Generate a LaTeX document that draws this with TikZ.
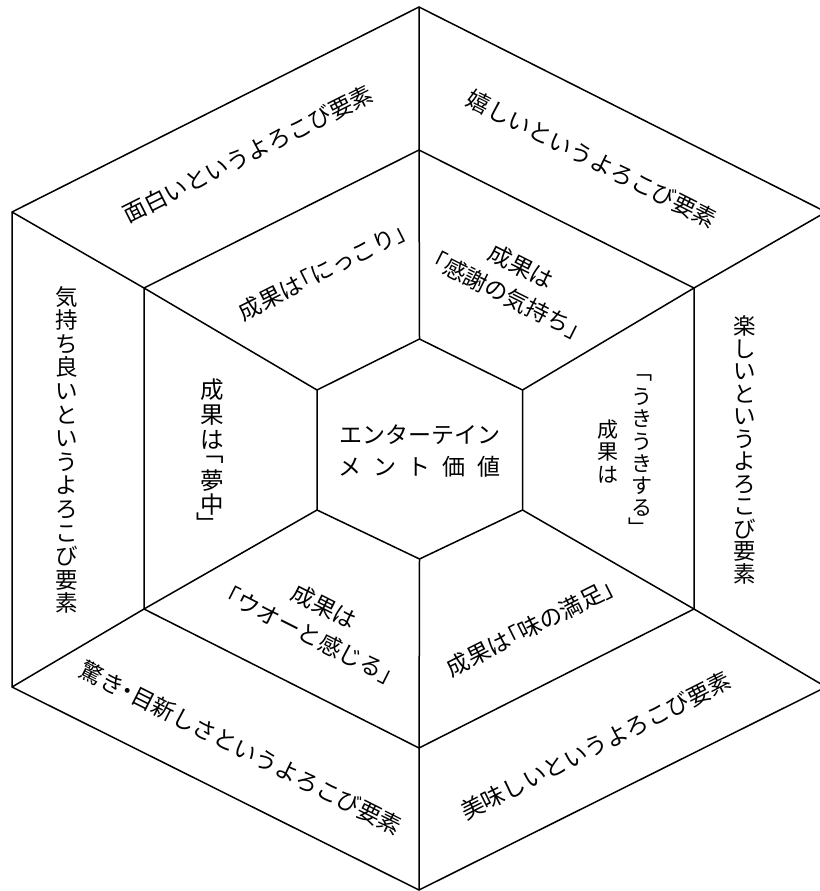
\documentclass[tikz,border=0pt]{standalone}
\usepackage{fontspec}
\newfontfamily\cjk{Noto Sans CJK JP}[RawFeature=+halt]
\begin{document}
\begin{tikzpicture}[x=1pt,y=-1pt,
  edge/.style={line width=1.5pt, line join=miter, black},
  rlbl/.style={font=\cjk\fontsize{23}{23}\selectfont, inner sep=0pt, align=center},
  rlbl2/.style={font=\cjk\fontsize{23}{32}\selectfont, inner sep=0pt, align=center},
  vlbl/.style={font=\cjk\fontsize{22.5}{#1}\selectfont, inner sep=0pt, align=center},
  vlbl/.default={22.5}]
\useasboundingbox (0,0) rectangle (819,891);
% outer hexagon
\coordinate (oT) at (419,7);
\coordinate (oUL) at (12,212);
\coordinate (oLL) at (12,687);
\coordinate (oB) at (419,890);
\coordinate (oLR) at (826,687);
\coordinate (oUR) at (826,212);
% middle hexagon
\coordinate (mT) at (419,150);
\coordinate (mUL) at (144,288);
\coordinate (mLL) at (144,609);
\coordinate (mB) at (419,748);
\coordinate (mLR) at (694,609);
\coordinate (mUR) at (694,288);
% inner hexagon
\coordinate (iT) at (419.5,339);
\coordinate (iUL) at (317,390);
\coordinate (iLL) at (317,510);
\coordinate (iB) at (419.5,559);
\coordinate (iLR) at (522.5,510);
\coordinate (iUR) at (522.5,390);

\draw[edge] (oT) -- (oUL) -- (oLL) -- (oB) -- (oLR) -- (oUR) -- cycle;
\draw[edge] (mT) -- (mUL) -- (mLL) -- (mB) -- (mLR) -- (mUR) -- cycle;
\draw[edge] (iT) -- (iUL) -- (iLL) -- (iB) -- (iLR) -- (iUR) -- cycle;
\foreach \v in {T,UL,LL,B,LR,UR}{
  \draw[edge] (i\v) -- (m\v) -- (o\v);
}

% outer ring labels
\node[rlbl, rotate=26.7] (tUL) at (248,154) {面白いというよろこび要素};
\node[rlbl, rotate=-26.7] (tUR) at (592,159) {嬉しいというよろこび要素};
\node[rlbl, rotate=-26.7] (tLL) at (241,748) {驚き・目新しさというよろこび要素};
\node[rlbl, rotate=26.7] (tLR) at (596,746) {美味しいというよろこび要素};
\node[vlbl] (tR) at (745,450) {楽\\し\\い\\と\\い\\う\\よ\\ろ\\こ\\び\\要\\素};
\node[vlbl=23.6] (tL) at (67,450) {気\\持\\ち\\良\\い\\と\\い\\う\\よ\\ろ\\こ\\び\\要\\素};

% middle ring labels
\node[rlbl, rotate=26.7] (sUL) at (322,272) {成果は「にっこり」};
\node[rlbl2, rotate=-26.7] (sUR) at (514,281) {成果は\\「感謝の気持ち」};
\node[rlbl2, rotate=-26.7] (sLL) at (317,621) {成果は\\「ウオーと感じる」};
\node[rlbl, rotate=26.7] (sLR) at (530,628) {成果は「味の満足」};
% left middle, vertical
\node[vlbl=25, font=\cjk\fontsize{23.5}{25}\selectfont] (sLa) at (212,414) {成\\果\\は};
\node[vlbl, font=\cjk\fontsize{23.5}{25}\selectfont] (sLb) at (212,460) {﹁};
\node[vlbl=24, font=\cjk\fontsize{23.5}{24}\selectfont] (sLc) at (212,493) {夢\\中};
\node[vlbl, font=\cjk\fontsize{23.5}{25}\selectfont] (sLd) at (208,523) {﹂};
% right middle, vertical two columns
\node[vlbl, font=\cjk\fontsize{21}{22}\selectfont] (sRa) at (642,378) {﹁};
\node[vlbl=22.2, font=\cjk\fontsize{21}{22.2}\selectfont] (sRb) at (642,452.5) {う\\き\\う\\き\\す\\る};
\node[vlbl, font=\cjk\fontsize{21}{22}\selectfont] (sRc) at (639,527) {﹂};
\node[vlbl=22.5, font=\cjk\fontsize{21}{22.5}\selectfont] (sRd) at (608,451.5) {成\\果\\は};

% center
\node[font=\cjk\fontsize{23}{32}\selectfont, inner sep=0pt, align=center] (ctr) at (419.5,451)
  {エンターテイン\\\makebox[162pt][s]{メ\hfill ン\hfill ト\hfill 価\hfill 値}};
\end{tikzpicture}
\end{document}
